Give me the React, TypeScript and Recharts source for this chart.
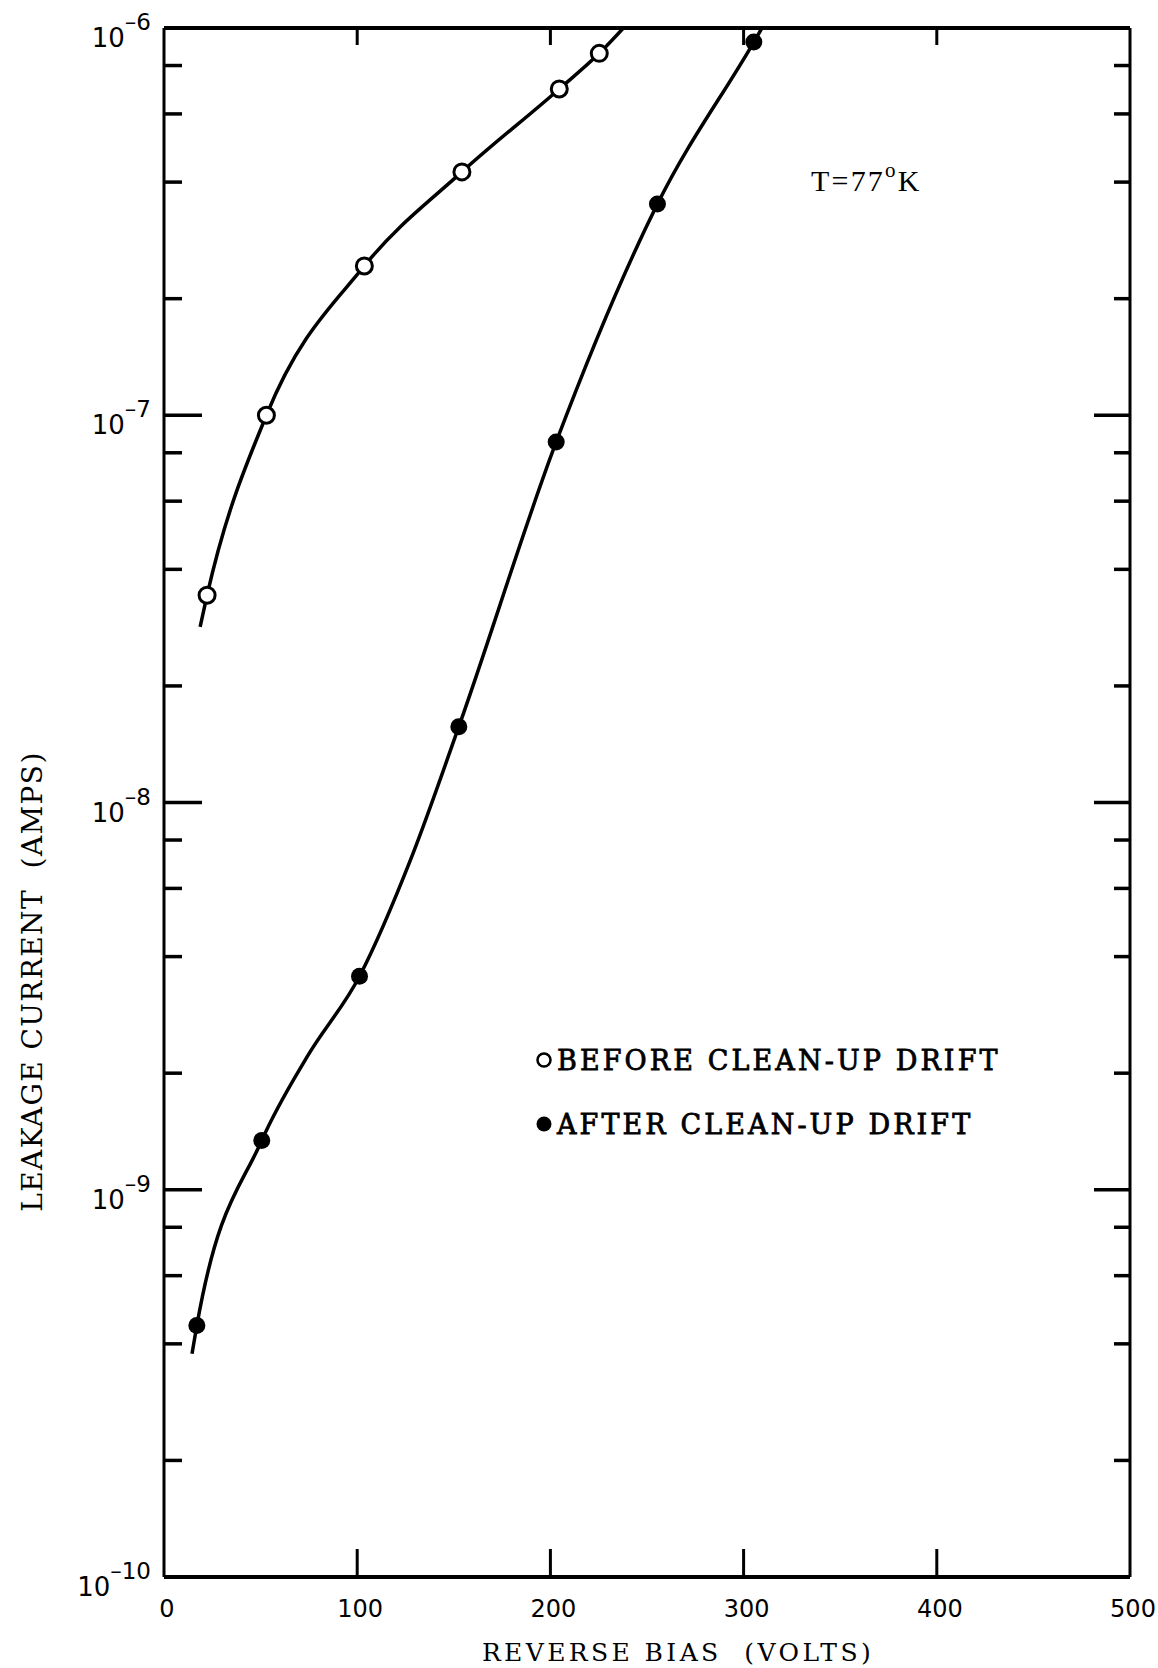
import React from 'react';
import {
  ComposedChart,
  Line,
  Scatter,
  XAxis,
  YAxis,
  Legend,
} from 'recharts';

const beforeVolts = [22.3, 53, 103.7, 154.2, 204.6, 225.3];
const beforeAmps = [3.43e-8, 1.0e-7, 2.43e-7, 4.25e-7, 6.96e-7, 8.6e-7];
const afterVolts = [17, 50.6, 101.2, 152.6, 203, 255.4, 305.3];
const afterAmps = [4.46e-10, 1.34e-9, 3.56e-9, 1.57e-8, 8.53e-8, 3.51e-7, 9.2e-7];

// extra positions of the drawn curves (ends, and where it bends between points)
const beforeCurveVolts = [18.7, 237.8];
const beforeCurveAmps = [2.84e-8, 1e-6];
const afterCurveVolts = [14.5, 74.2, 128.2, 309.5];
const afterCurveAmps = [3.77e-10, 2.21e-9, 7.24e-9, 1e-6];

const voltTicks = [0, 100, 200, 300, 400, 500];
const innerVoltTicks = [100, 200, 300, 400];
const decadeTicks = [1e-10, 1e-9, 1e-8, 1e-7, 1e-6];
const decadeExponents = ['\u201310', '\u20139', '\u20138', '\u20137', '\u20136'];
const minorMantissas = [2, 4, 6, 8];

const seriesNames = ['BEFORE CLEAN-UP DRIFT', 'AFTER CLEAN-UP DRIFT'];
const xTitle = 'REVERSE BIAS  (VOLTS)';
const yTitle = 'LEAKAGE CURRENT  (AMPS)';

type Pt = { x: number; y: number };
const toPoints = (xs: number[], ys: number[]): Pt[] => xs.map((x, i) => ({ x, y: ys[i] }));
const byVolts = (a: Pt, b: Pt) => a.x - b.x;

const beforePoints = toPoints(beforeVolts, beforeAmps);
const afterPoints = toPoints(afterVolts, afterAmps);
const beforeCurve = [...beforePoints, ...toPoints(beforeCurveVolts, beforeCurveAmps)].sort(byVolts);
const afterCurve = [...afterPoints, ...toPoints(afterCurveVolts, afterCurveAmps)].sort(byVolts);

const logTicks = [
  ...decadeTicks,
  ...decadeTicks.slice(0, -1).flatMap((d) => minorMantissas.map((m) => m * d)),
].sort((a, b) => a - b);

const INK = '#000';
const numFont = '"DejaVu Sans", sans-serif';
const serif = '"DejaVu Serif", serif';

const decadeIndex = (v: number) =>
  decadeTicks.findIndex((d) => Math.abs(Math.log10(v) - Math.log10(d)) < 1e-6);

const LeftTick = (props: any) => {
  const { x, y, payload } = props;
  const idx = decadeIndex(payload.value);
  const major = idx >= 0;
  const edge = idx === 0 || idx === decadeTicks.length - 1;
  return (
    <g>
      {!edge && (
        <line x1={x} x2={x + (major ? 38 : 18)} y1={y} y2={y} stroke={INK} strokeWidth={3.5} />
      )}
      {major && (
        <text x={x - 13} y={y + 19} textAnchor="end" fontFamily={numFont} fontSize={26} fill={INK}>
          10
          <tspan dy={-17} fontSize={23}>
            {decadeExponents[idx]}
          </tspan>
        </text>
      )}
    </g>
  );
};

const RightTick = (props: any) => {
  const { x, y, payload } = props;
  const idx = decadeIndex(payload.value);
  if (idx === 0 || idx === decadeTicks.length - 1) return <g />;
  return <line x1={x} x2={x - (idx >= 0 ? 36 : 16)} y1={y} y2={y} stroke={INK} strokeWidth={3.5} />;
};

const BottomTick = (props: any) => {
  const { x, y, payload } = props;
  const inner = innerVoltTicks.includes(payload.value);
  return (
    <g>
      {inner && <line x1={x} x2={x} y1={y} y2={y - 28} stroke={INK} strokeWidth={3} />}
      <text x={x + 3} y={y + 40} textAnchor="middle" fontFamily={numFont} fontSize={24} fill={INK}>
        {payload.value}
      </text>
    </g>
  );
};

const TopTick = (props: any) => {
  const { x, y } = props;
  return <line x1={x} x2={x} y1={y} y2={y + 17} stroke={INK} strokeWidth={3} />;
};

const OpenDot = (p: any) => (
  <circle cx={p.cx} cy={p.cy} r={8} fill="#fff" stroke={INK} strokeWidth={3} />
);
const FilledDot = (p: any) => <circle cx={p.cx} cy={p.cy} r={8.5} fill={INK} />;

const legendText = {
  fontFamily: serif,
  fontSize: 27,
  letterSpacing: 3.1,
  fill: INK,
  stroke: INK,
  strokeWidth: 0.8,
};

const LegendBox = () => (
  <svg width={480} height={100} style={{ display: 'block' }}>
    <circle cx={9} cy={14} r={6.5} fill="#fff" stroke={INK} strokeWidth={2.5} />
    <text x={22} y={24} {...legendText}>
      {seriesNames[0]}
    </text>
    <circle cx={9} cy={78} r={7.5} fill={INK} />
    <text x={22} y={88} {...legendText}>
      {seriesNames[1]}
    </text>
  </svg>
);

const XTitle = (p: any) => {
  const vb = p.viewBox;
  return (
    <text
      x={vb.x + vb.width / 2 + 31}
      y={vb.y + 84}
      textAnchor="middle"
      fontFamily={serif}
      fontSize={25}
      letterSpacing={3.4}
      fill={INK}
      style={{ whiteSpace: 'pre' }}
    >
      {xTitle}
    </text>
  );
};

const YTitle = (p: any) => {
  const vb = p.viewBox;
  const cx = vb.x - 32;
  const cy = vb.y + vb.height / 2 + 179;
  return (
    <text
      x={cx}
      y={cy}
      transform={`rotate(-90, ${cx}, ${cy})`}
      textAnchor="middle"
      dominantBaseline="central"
      fontFamily={serif}
      fontSize={28}
      letterSpacing={1.4}
      fill={INK}
      style={{ whiteSpace: 'pre' }}
    >
      {yTitle}
    </text>
  );
};

export default function App() {
  return (
    <div style={{ position: 'absolute', left: 0, top: 0, width: 1158, height: 1668, background: '#fff' }}>
      <ComposedChart width={1158} height={1668} margin={{ top: 8, right: 8, bottom: 31, left: 64 }}>
        <XAxis
          xAxisId="bottom"
          type="number"
          dataKey="x"
          domain={[0, 500]}
          ticks={voltTicks}
          interval={0}
          allowDataOverflow
          height={60}
          tickSize={0}
          tickMargin={0}
          tickLine={false}
          tick={BottomTick}
          axisLine={{ stroke: INK, strokeWidth: 4 }}
          label={{ value: xTitle, content: XTitle }}
        />
        <XAxis
          xAxisId="top"
          orientation="top"
          type="number"
          dataKey="x"
          domain={[0, 500]}
          ticks={innerVoltTicks}
          interval={0}
          allowDataOverflow
          height={20}
          tickSize={0}
          tickMargin={0}
          tickLine={false}
          tick={TopTick}
          axisLine={{ stroke: INK, strokeWidth: 4 }}
        />
        <YAxis
          yAxisId="left"
          type="number"
          dataKey="y"
          scale="log"
          domain={[1e-10, 1e-6]}
          ticks={logTicks}
          interval={0}
          allowDataOverflow
          width={100}
          tickSize={0}
          tickMargin={0}
          tickLine={false}
          tick={LeftTick}
          axisLine={{ stroke: INK, strokeWidth: 3 }}
          label={{ value: yTitle, content: YTitle }}
        />
        <YAxis
          yAxisId="right"
          orientation="right"
          type="number"
          dataKey="y"
          scale="log"
          domain={[1e-10, 1e-6]}
          ticks={logTicks}
          interval={0}
          allowDataOverflow
          width={20}
          tickSize={0}
          tickMargin={0}
          tickLine={false}
          tick={RightTick}
          axisLine={{ stroke: INK, strokeWidth: 3 }}
        />
        <Line
          xAxisId="bottom"
          yAxisId="left"
          data={beforeCurve}
          dataKey="y"
          type="monotone"
          stroke={INK}
          strokeWidth={3.5}
          dot={false}
          activeDot={false}
          isAnimationActive={false}
          legendType="none"
        />
        <Line
          xAxisId="bottom"
          yAxisId="left"
          data={afterCurve}
          dataKey="y"
          type="monotone"
          stroke={INK}
          strokeWidth={3.5}
          dot={false}
          activeDot={false}
          isAnimationActive={false}
          legendType="none"
        />
        <Scatter
          xAxisId="bottom"
          yAxisId="left"
          name={seriesNames[0]}
          data={beforePoints}
          dataKey="y"
          shape={OpenDot}
          isAnimationActive={false}
        />
        <Scatter
          xAxisId="bottom"
          yAxisId="left"
          name={seriesNames[1]}
          data={afterPoints}
          dataKey="y"
          shape={FilledDot}
          isAnimationActive={false}
        />
        <Legend
          layout="vertical"
          align="center"
          verticalAlign="middle"
          content={LegendBox}
          wrapperStyle={{ left: 535, top: 1046, width: 480 }}
        />
      </ComposedChart>
      <svg
        width={1158}
        height={1668}
        style={{ position: 'absolute', left: 0, top: 0, pointerEvents: 'none' }}
      >
        <text x={811} y={191} fontFamily='"Liberation Serif", serif' fontSize={30} letterSpacing={2.2} fill={INK}>
          T=77
          <tspan dy={-14} fontSize={21}>
            o
          </tspan>
          <tspan dy={14}>K</tspan>
        </text>
      </svg>
    </div>
  );
}
